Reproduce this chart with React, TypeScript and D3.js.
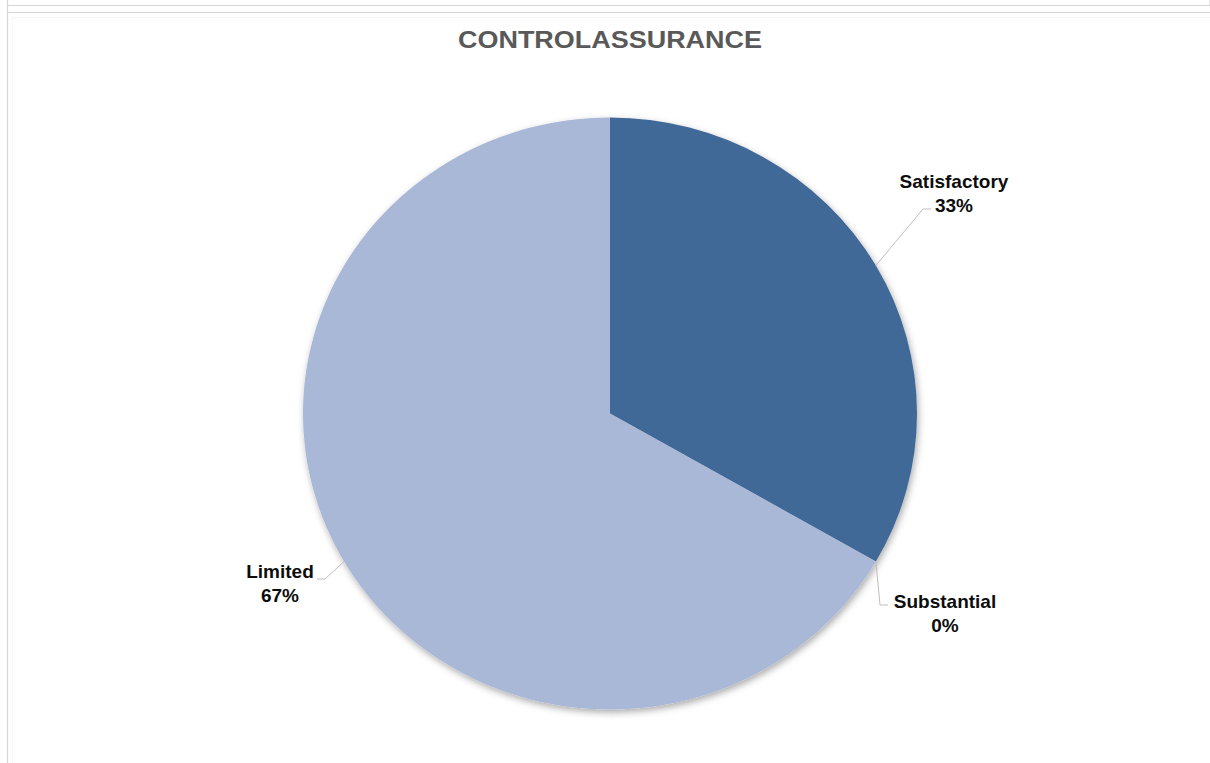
import React from "react";
import * as d3 from "d3";

const categories = ["Satisfactory", "Substantial", "Limited"];
const counts = [1, 0, 2];
const percentLabels = ["33%", "0%", "67%"];
const colors = ["#416998", "#416998", "#A9B8D6"];

// label layout (text anchor points and leader elbows)
const labelLayout = [
  { x: 954, y: 188, elbow: [923, 209], end: [931, 209] },
  { x: 945, y: 608, elbow: [880, 605], end: [888, 605] },
  { x: 280, y: 578, elbow: [325, 579], end: [317, 579] },
];

const W = 1210;
const H = 763;
const cx = 610;
const cy = 413.5;
const rx = 307;
const ry = 296;

export default function App() {
  const pie = d3
    .pie<number>()
    .sort(null)
    .value((d) => d);
  const arcs = pie(counts);
  const arc = d3.arc<d3.PieArcDatum<number>>().innerRadius(0).outerRadius(ry);
  const font = "'Liberation Sans', Arial, Helvetica, sans-serif";

  const edge = (a: number) => [cx + rx * Math.sin(a), cy - ry * Math.cos(a)];

  return (
    <svg
      width={W}
      height={H}
      style={{ position: "absolute", left: 0, top: 0, background: "#fff" }}
    >
      <defs>
        <filter id="sh" x="-10%" y="-10%" width="120%" height="120%">
          <feDropShadow dx="1.5" dy="3" stdDeviation="3.5" floodColor="#000" floodOpacity="0.33" />
        </filter>
      </defs>
      {/* frame lines */}
      <line x1={7} x2={W} y1={5.5} y2={5.5} stroke="#d6d6d6" strokeWidth={1.2} />
      <line x1={7} x2={W} y1={12.5} y2={12.5} stroke="#d6d6d6" strokeWidth={1.2} />
      <line x1={7.5} x2={7.5} y1={0} y2={H} stroke="#d6d6d6" strokeWidth={1.2} />
      <line x1={1209.5} x2={1209.5} y1={0} y2={5} stroke="#e6e6e6" />
      <line x1={12} x2={W} y1={17.5} y2={17.5} stroke="#f6f6f6" />
      <line x1={12.5} x2={12.5} y1={17} y2={H} stroke="#f6f6f6" />

      <text
        x={cx}
        y={48}
        textAnchor="middle"
        fontFamily={font}
        fontWeight="bold"
        fontSize={24}
        fill="#595959"
        textLength={304}
        lengthAdjust="spacingAndGlyphs"
      >
        CONTROLASSURANCE
      </text>

      <g filter="url(#sh)">
        <g transform={`translate(${cx},${cy}) scale(${rx / ry},1)`}>
          {arcs.map((a, i) =>
            a.endAngle - a.startAngle > 0 ? (
              <path key={i} d={arc(a) || ""} fill={colors[i]} />
            ) : null
          )}
        </g>
      </g>

      {arcs.map((a, i) => {
        const mid = (a.startAngle + a.endAngle) / 2;
        const [sx, sy] = edge(mid);
        const L = labelLayout[i];
        return (
          <g key={"l" + i}>
            <polyline
              points={`${sx},${sy} ${L.elbow[0]},${L.elbow[1]} ${L.end[0]},${L.end[1]}`}
              fill="none"
              stroke="#bfbfbf"
              strokeWidth={1}
            />
            <text
              x={L.x}
              y={L.y}
              textAnchor="middle"
              fontFamily={font}
              fontWeight="bold"
              fontSize={19}
              fill="#0d0d0d"
            >
              {categories[i]}
            </text>
            <text
              x={L.x}
              y={L.y + 23.5}
              textAnchor="middle"
              fontFamily={font}
              fontWeight="bold"
              fontSize={19}
              fill="#0d0d0d"
            >
              {percentLabels[i]}
            </text>
          </g>
        );
      })}
    </svg>
  );
}
